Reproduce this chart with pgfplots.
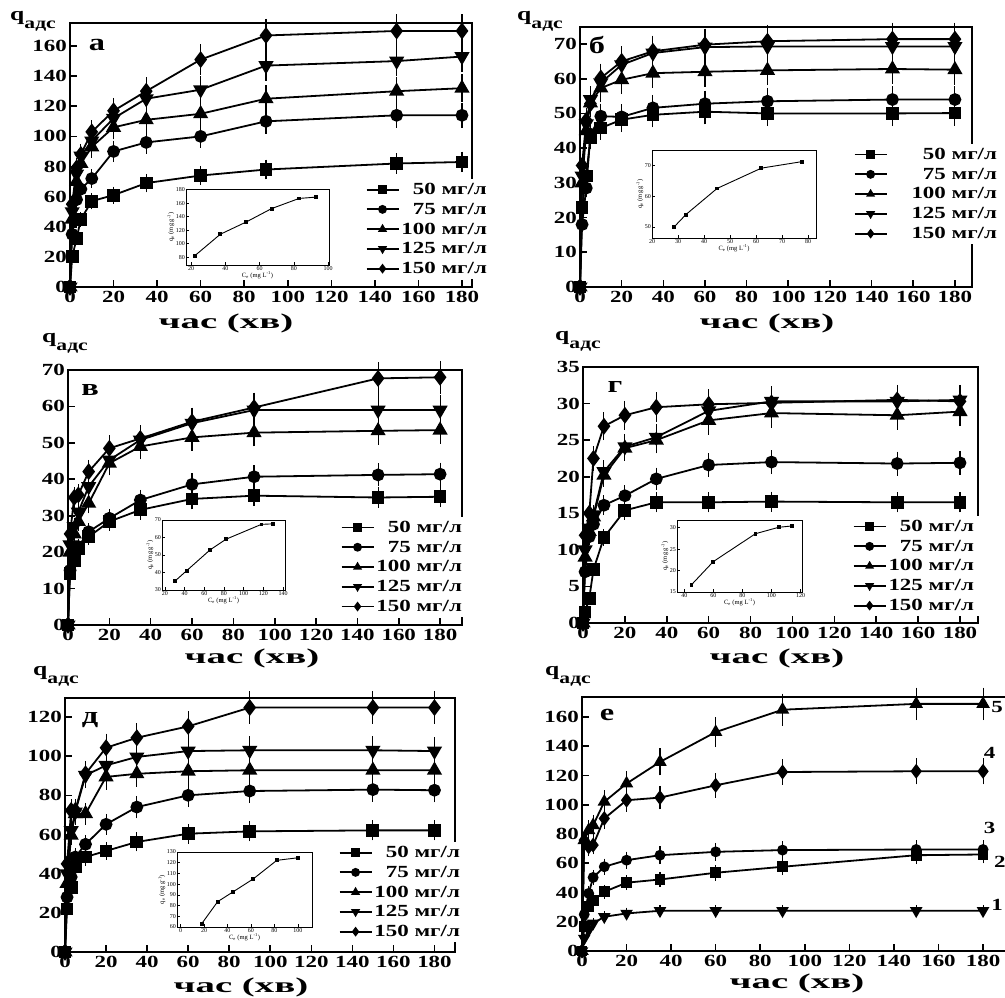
\documentclass[border=0pt]{standalone}
\usepackage{pgfplots}
\pgfplotsset{compat=1.18}
\usepackage{fontspec}
\setmainfont{Liberation Serif}
\newfontfamily\tickf[FakeStretch=1.35]{Liberation Serif Bold}
\newfontfamily\labf[FakeStretch=1.85]{Liberation Serif Bold}
\newfontfamily\insf{Liberation Serif}
\newcommand\tickfont{\tickf\fontsize{17}{19}\selectfont}
\newcommand\legfont{\tickf\fontsize{17}{19}\selectfont}
\newcommand\xlabfont{\labf\fontsize{21}{23}\selectfont}
\newcommand\letfont{\tickf\fontsize{24}{26}\selectfont}
\newcommand\qfont{\tickf\fontsize{19}{21}\selectfont}
\newcommand\subfont{\tickf\fontsize{16}{18}\selectfont}
\newcommand\insfont{\insf\fontsize{6}{7}\selectfont}
\newcommand\inslab{\insf\fontsize{6.5}{7.5}\selectfont}
\newcommand\qads{{\qfont q}\raisebox{-8pt}{\subfont адс}}

\pgfplotsset{
  main/.style={
    scale only axis, anchor=south west, clip=false,
    axis line style={line width=2pt},
    tick align=inside, xtick pos=left, ytick pos=left,
    major tick length=7pt, every tick/.style={line width=1.6pt, black},
    xmin=0, ymin=0, xtick={0,20,...,180},
    ticklabel style={font=\tickfont},
    yticklabel style={inner sep=2pt, xshift=-1pt},
    xticklabel style={inner sep=2pt, yshift=-2pt},
    /pgf/number format/assume math mode=true,
    every axis plot/.append style={black, line width=1.8pt, mark size=5.5pt},
    legend cell align=right,
    legend image code/.code={\draw[mark repeat=2,mark phase=2,##1,mark size=3.5pt] plot coordinates {(0pt,0pt) (16pt,0pt) (32pt,0pt)};},
    legend style={draw=none, fill=white, font=\legfont, anchor=north east, row sep=3pt},
  },
  eb/.style={/pgfplots/error bars/y dir=both, /pgfplots/error bars/y fixed relative=#1,
     /pgfplots/error bars/error bar style={line width=1.1pt},
     /pgfplots/error bars/error mark options={line width=1.1pt, mark size=4pt}},
  eb/.default=0.05,
  sA/.style={mark=square*, eb},
  sB/.style={mark=*, eb},
  sC/.style={mark=triangle*, mark size=7pt, eb},
  sD/.style={mark=triangle*, mark size=7pt, mark options={rotate=180}, eb},
  sE/.style={mark=diamond*, mark size=7pt, eb},
  ins/.style={black, line width=0.9pt, mark=square*, mark size=1.4pt, mark options={black, fill=black}},
  inset/.style={
    scale only axis, anchor=south west,
    axis line style={line width=0.8pt},
    tick align=inside, major tick length=2.5pt, every tick/.style={line width=0.6pt, black},
    xtick pos=left, ytick pos=left,
    ticklabel style={font=\insfont, inner sep=1pt},
    /pgf/number format/assume math mode=true,
    xlabel={C\textsubscript{e} (mg L\textsuperscript{-1})},
    ylabel={q\textsubscript{e} (mg g\textsuperscript{-1})},
    label style={font=\inslab},
    xlabel style={yshift=3pt}, ylabel style={yshift=-3pt},
    axis background/.style={fill=white},
  },
}

\begin{document}
\begin{tikzpicture}
\path[use as bounding box] (0pt,0pt) rectangle (1005pt,998pt);

% ---------------- panel a ----------------
\begin{axis}[main, at={(70pt,711pt)}, width=402pt, height=264pt, xmax=184.6, ymax=175.3,
  ytick={0,20,...,160}, legend style={at={(1.05,0.409)}}]
\addplot[sA] coordinates {(0,0)(1,20)(3,32)(5,45)(10,57)(20,61)(35,69)(60,74)(90,78)(150,82)(180,83)};
\addlegendentry{50 мг/л}
\addplot[sB] coordinates {(0,0)(1,35)(3,58)(5,65)(10,72)(20,90)(35,96)(60,100)(90,110)(150,114)(180,114)};
\addlegendentry{75 мг/л}
\addplot[sC] coordinates {(0,0)(1,45)(3,70)(5,82)(10,93)(20,106)(35,111)(60,115)(90,125)(150,130)(180,132)};
\addlegendentry{100 мг/л}
\addplot[sD] coordinates {(0,0)(1,50)(3,75)(5,87)(10,97)(20,112)(35,125)(60,131)(90,147)(150,150)(180,153)};
\addlegendentry{125 мг/л}
\addplot[sE] coordinates {(0,0)(1,55)(3,79)(5,88)(10,103)(20,117)(35,130)(60,151)(90,167)(150,170)(180,170)};
\addlegendentry{150 мг/л}
\end{axis}
\begin{axis}[inset, at={(186pt,733pt)}, width=143pt, height=76pt, xmin=17, xmax=100.5, ymin=68.6, ymax=181,
  xtick={20,40,...,100}, ytick={80,100,...,180}]
\addplot[ins] coordinates {(22,82)(37,114)(52,132)(67,152)(83,167)(93,169)};
\end{axis}

% ---------------- panel b ----------------
\begin{axis}[main, at={(580pt,711pt)}, width=392pt, height=260pt, xmax=188.2, ymax=74.9,
  ytick={0,10,...,70}, legend style={at={(1.077,0.55)}, /tikz/column 1/.style={column sep=22pt}}]
\addplot[sA] coordinates {(0,0)(1,23)(3,32)(5,43)(10,45.8)(20,48.2)(35,49.6)(60,50.5)(90,50)(150,50)(180,50.1)};
\addlegendentry{50 мг/л}
\addplot[sB] coordinates {(0,0)(1,18)(3,28.5)(5,44)(10,49.2)(20,49)(35,51.6)(60,52.8)(90,53.5)(150,54)(180,54)};
\addlegendentry{75 мг/л}
\addplot[sC] coordinates {(0,0)(1,30)(3,45)(5,53)(10,57.3)(20,59.7)(35,61.6)(60,62)(90,62.4)(150,62.8)(180,62.6)};
\addlegendentry{100 мг/л}
\addplot[sD] coordinates {(0,0)(1,32)(3,47)(5,54)(10,58.8)(20,64)(35,67.4)(60,69.1)(90,69.3)(150,69.3)(180,69.3)};
\addlegendentry{125 мг/л}
\addplot[sE] coordinates {(0,0)(1,35)(3,48)(5,52.8)(10,60.2)(20,65)(35,67.9)(60,69.8)(90,70.8)(150,71.4)(180,71.4)};
\addlegendentry{150 мг/л}
\end{axis}
\begin{axis}[inset, at={(652pt,760pt)}, width=164pt, height=88pt, xmin=20, xmax=83, ymin=46.4, ymax=75,
  xtick={20,30,...,80}, ytick={50,60,70}]
\addplot[ins] coordinates {(28.5,50)(33,54)(45,62.5)(62,69.1)(77.5,71.2)};
\end{axis}

% ---------------- panel v ----------------
\begin{axis}[main, at={(68pt,373pt)}, width=394pt, height=255pt, xmax=190.6, ymax=70,
  ytick={0,10,...,70}, legend style={at={(1.013,0.424)}}]
\addplot[sA] coordinates {(0,0)(1,14.2)(3,17.8)(5,21)(10,24.2)(20,28.4)(35,31.6)(60,34.6)(90,35.5)(150,35)(180,35.2)};
\addlegendentry{50 мг/л}
\addplot[sB] coordinates {(0,0)(1,15)(3,19.7)(5,21.5)(10,25.6)(20,29.3)(35,34.3)(60,38.6)(90,40.7)(150,41.2)(180,41.4)};
\addlegendentry{75 мг/л}
\addplot[sC] coordinates {(0,0)(1,20)(3,25)(5,28.4)(10,33.4)(20,44.4)(35,49)(60,51.5)(90,52.8)(150,53.3)(180,53.5)};
\addlegendentry{100 мг/л}
\addplot[sD] coordinates {(0,0)(1,22)(3,27)(5,31)(10,38)(20,45.3)(35,50.8)(60,55.4)(90,59)(150,59)(180,59)};
\addlegendentry{125 мг/л}
\addplot[sE] coordinates {(0,0)(1,25)(3,35)(5,35.7)(10,42.1)(20,48.5)(35,51.2)(60,55.8)(90,59.7)(150,67.7)(180,68)};
\addlegendentry{150 мг/л}
\end{axis}
\begin{axis}[inset, at={(162pt,408pt)}, width=123pt, height=70pt, xmin=17, xmax=142, ymin=30, ymax=70,
  xtick={20,40,...,140}, ytick={30,40,...,70}]
\addplot[ins] coordinates {(30,35)(42,41)(66,53)(82,59)(118,67.5)(130,67.8)};
\end{axis}

% ---------------- panel g ----------------
\begin{axis}[main, at={(583pt,375pt)}, width=395pt, height=256pt, xmax=188.6, ymax=35,
  ytick={0,5,...,35}, legend style={at={(1.003,0.418)}}]
\addplot[sA] coordinates {(0,0)(1,1.5)(3,3.4)(5,7.3)(10,11.7)(20,15.4)(35,16.5)(60,16.5)(90,16.6)(150,16.5)(180,16.5)};
\addlegendentry{50 мг/л}
\addplot[sB] coordinates {(0,0)(1,7)(3,11.8)(5,13.5)(10,16.1)(20,17.4)(35,19.7)(60,21.6)(90,22)(150,21.8)(180,21.9)};
\addlegendentry{75 мг/л}
\addplot[sC] coordinates {(0,0)(1,9)(3,12.5)(5,14.5)(10,20.2)(20,23.9)(35,25)(60,27.7)(90,28.7)(150,28.4)(180,28.9)};
\addlegendentry{100 мг/л}
\addplot[sD] coordinates {(0,0)(1,10)(3,13)(5,14.8)(10,20.7)(20,24.1)(35,25.4)(60,29)(90,30.3)(150,30.3)(180,30.5)};
\addlegendentry{125 мг/л}
\addplot[sE] coordinates {(0,0)(1,12)(3,15)(5,22.5)(10,26.9)(20,28.4)(35,29.5)(60,29.9)(90,30.1)(150,30.5)(180,30.3)};
\addlegendentry{150 мг/л}
\end{axis}
\begin{axis}[inset, at={(677pt,406pt)}, width=125pt, height=72pt, xmin=35, xmax=121, ymin=15, ymax=31.8,
  xtick={40,60,...,120}, ytick={15,20,25,30}]
\addplot[ins] coordinates {(45,16.7)(60,22.1)(89,28.6)(105,30.1)(114,30.4)};
\end{axis}

% ---------------- panel d ----------------
\begin{axis}[main, at={(65pt,46pt)}, width=390pt, height=254pt, xmax=190, ymax=129.7,
  ytick={0,20,...,120}, legend style={at={(1.026,0.433)}}]
\addplot[sA] coordinates {(0,0)(1,22)(3,33)(5,43.4)(10,48.5)(20,51.6)(35,56.2)(60,60.4)(90,61.6)(150,62.1)(180,62.1)};
\addlegendentry{50 мг/л}
\addplot[sB] coordinates {(0,0)(1,28)(3,38.3)(5,48.5)(10,55)(20,65.2)(35,74)(60,80)(90,82.2)(150,82.9)(180,82.6)};
\addlegendentry{75 мг/л}
\addplot[sC] coordinates {(0,0)(1,35)(3,59.6)(5,70.6)(10,70.6)(20,89.4)(35,91)(60,92.3)(90,92.8)(150,92.8)(180,92.8)};
\addlegendentry{100 мг/л}
\addplot[sD] coordinates {(0,0)(1,40)(3,62)(5,71.5)(10,90.2)(20,95.3)(35,99.6)(60,102.6)(90,103)(150,103)(180,102.6)};
\addlegendentry{125 мг/л}
\addplot[sE] coordinates {(0,0)(1,45)(3,72.3)(5,72.3)(10,91)(20,104.3)(35,109.4)(60,115.2)(90,124.8)(150,124.8)(180,124.8)};
\addlegendentry{150 мг/л}
\end{axis}
\begin{axis}[inset, at={(177pt,71pt)}, width=135pt, height=75pt, xmin=-3, xmax=112, ymin=60, ymax=130,
  xtick={0,20,...,100}, ytick={60,70,...,130}]
\addplot[ins] coordinates {(18,63)(31.6,83.6)(44.6,92.7)(62,104.9)(82,122.2)(100,124.6)};
\end{axis}

% ---------------- panel e ----------------
\begin{axis}[main, at={(582pt,47pt)}, width=426pt, height=254pt, xmax=191.2, ymax=173.7,
  ytick={0,20,...,160}]
\addplot[sD, mark size=5.5pt] coordinates {(0,0)(1,8.6)(3,14.3)(5,18.9)(10,23.4)(20,25.7)(35,27.5)(60,27.5)(90,27.5)(150,27.5)(180,27.5)};
\addplot[sA, mark size=4.5pt] coordinates {(0,0)(1,16.6)(3,30.3)(5,34.4)(10,40.5)(20,46.7)(35,48.9)(60,53.5)(90,57.6)(150,65.5)(180,66)};
\addplot[sB, mark size=4.5pt] coordinates {(0,0)(1,25)(3,39.4)(5,50.3)(10,57.6)(20,62.1)(35,65.5)(60,67.8)(90,69)(150,69.4)(180,69.4)};
\addplot[sE, mark size=6pt] coordinates {(0,0)(1,75.8)(3,71.2)(5,72.4)(10,90.6)(20,103.1)(35,104.9)(60,113.3)(90,122.4)(150,122.9)(180,122.9)};
\addplot[sC, mark size=6pt] coordinates {(0,0)(1,75.8)(3,82.6)(5,86)(10,102)(20,114.5)(35,129.3)(60,149.7)(90,165)(150,169)(180,169)};
\node[font=\tickfont] at (axis cs:186.3,166.8) {5};
\node[font=\tickfont] at (axis cs:183,135.4) {4};
\node[font=\tickfont] at (axis cs:183,84.1) {3};
\node[font=\tickfont] at (axis cs:187.6,60.9) {2};
\node[font=\tickfont] at (axis cs:186.3,31.5) {1};
\end{axis}

% ---------------- texts ----------------
\node[font=\letfont] at (97pt,953pt) {а};
\node[font=\letfont] at (597pt,953pt) {б};
\node[font=\letfont] at (90pt,608pt) {в};
\node[font=\letfont] at (615pt,611pt) {г};
\node[font=\letfont] at (90pt,278pt) {д};
\node[font=\letfont] at (607pt,283pt) {е};

\node[anchor=base west, inner sep=0pt] at (10pt,977pt) {\qads};
\node[anchor=base west, inner sep=0pt] at (517pt,977pt) {\qads};
\node[anchor=base west, inner sep=0pt] at (42pt,655pt) {\qads};
\node[anchor=base west, inner sep=0pt] at (555pt,657pt) {\qads};
\node[anchor=base west, inner sep=0pt] at (33pt,322pt) {\qads};
\node[anchor=base west, inner sep=0pt] at (545pt,322pt) {\qads};

\node[font=\xlabfont] at (226pt,675pt) {час (хв)};
\node[font=\xlabfont] at (767pt,675pt) {час (хв)};
\node[font=\xlabfont] at (252pt,340pt) {час (хв)};
\node[font=\xlabfont] at (777pt,340pt) {час (хв)};
\node[font=\xlabfont] at (241pt,11pt) {час (хв)};
\node[font=\xlabfont] at (797pt,15pt) {час (хв)};
\end{tikzpicture}
\end{document}
